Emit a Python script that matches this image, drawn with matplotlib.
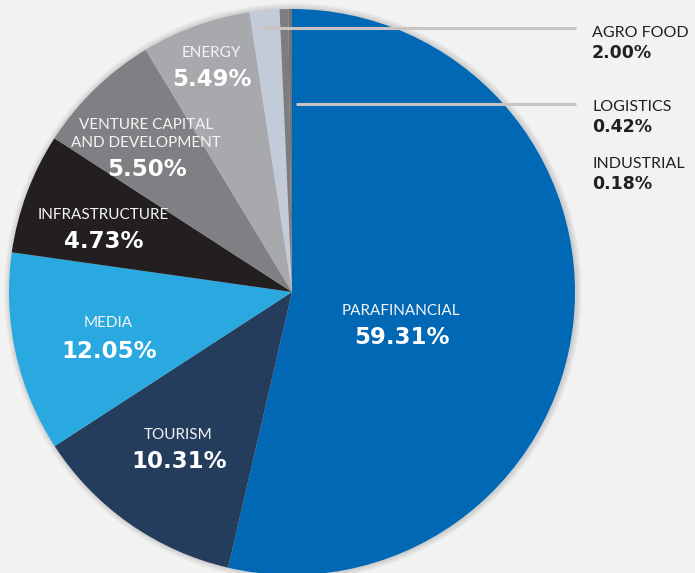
import matplotlib.pyplot as plt
from matplotlib.patches import Circle

# sectors, clockwise from 12 o'clock
sectors = ["PARAFINANCIAL", "TOURISM", "MEDIA", "INFRASTRUCTURE",
           "VENTURE CAPITAL\nAND DEVELOPMENT", "ENERGY", "AGRO FOOD",
           "LOGISTICS", "INDUSTRIAL"]
# printed percentages
pct_labels = ["59.31%", "10.31%", "12.05%", "4.73%", "5.50%", "5.49%",
              "2.00%", "0.42%", "0.18%"]
# slice sizes as drawn in the original graphic (they don't follow the labels)
drawn = [53.6, 12.2, 11.4, 6.9, 7.2, 6.25, 1.7, 0.49, 0.21]
colors = ["#0068b4", "#253d5c", "#29a9e0", "#231f20", "#7f8083",
          "#a7a9ac", "#c3cbd8", "#7c7d80", "#737477"]

W, H = 695, 573
bg = "#f2f2f2"
cx, cy, R = 292, H - 292, 283

fig = plt.figure(figsize=(W / 100, H / 100), dpi=100, facecolor=bg)
ax = fig.add_axes([0, 0, 1, 1])

# soft shadow round the pie
for k in range(1, 7):
    ax.add_patch(Circle((cx + 1, cy), R + k, color="black", alpha=0.025, lw=0))

ax.pie(drawn, colors=colors, startangle=90, counterclock=False,
       center=(cx, cy), radius=R, frame=True,
       wedgeprops=dict(linewidth=0))
ax.set_xlim(0, W)
ax.set_ylim(0, H)
ax.set_aspect("equal")
ax.axis("off")

name_font = "Lato"
pct_font = "DejaVu Sans"

# label positions inside the pie (x, y of name in px from top, gap to pct)
inside = {
    "PARAFINANCIAL": (401, 311, 26),
    "TOURISM": (178, 435, 27),
    "MEDIA": (108, 323, 28),
    "INFRASTRUCTURE": (103, 215, 27),
    "VENTURE CAPITAL\nAND DEVELOPMENT": (146, 134, 36),
    "ENERGY": (211, 53, 27),
}
for name, pct in zip(sectors, pct_labels):
    if name in inside:
        x, y, dy = inside[name]
        ax.text(x, H - y, name, ha="center", va="center", color="#f4f4f4",
                fontsize=11, family=name_font, linespacing=1.3)
        ax.text(x + 1, H - y - dy, pct, ha="center", va="center", color="white",
                fontsize=16.5, family=pct_font, fontweight="bold")

# small slices listed on the right
right = {"AGRO FOOD": 33, "LOGISTICS": 107, "INDUSTRIAL": 164}
for name, pct in zip(sectors, pct_labels):
    if name in right:
        y = right[name]
        ax.text(592, H - y, name, ha="left", va="center", color="#231f20",
                fontsize=11.5, family=name_font)
        ax.text(592, H - y - 20, pct, ha="left", va="center",
                color="#231f20", fontsize=12.5, family=pct_font, fontweight="bold")

# leader lines
ax.plot([262, 576], [H - 28, H - 28], color="#c9c3c3", lw=2.2, solid_capstyle="butt")
ax.plot([296, 576], [H - 104, H - 104], color="#c9c3c3", lw=2.2, solid_capstyle="butt")

fig.savefig("out.png", dpi=100, facecolor=bg)
